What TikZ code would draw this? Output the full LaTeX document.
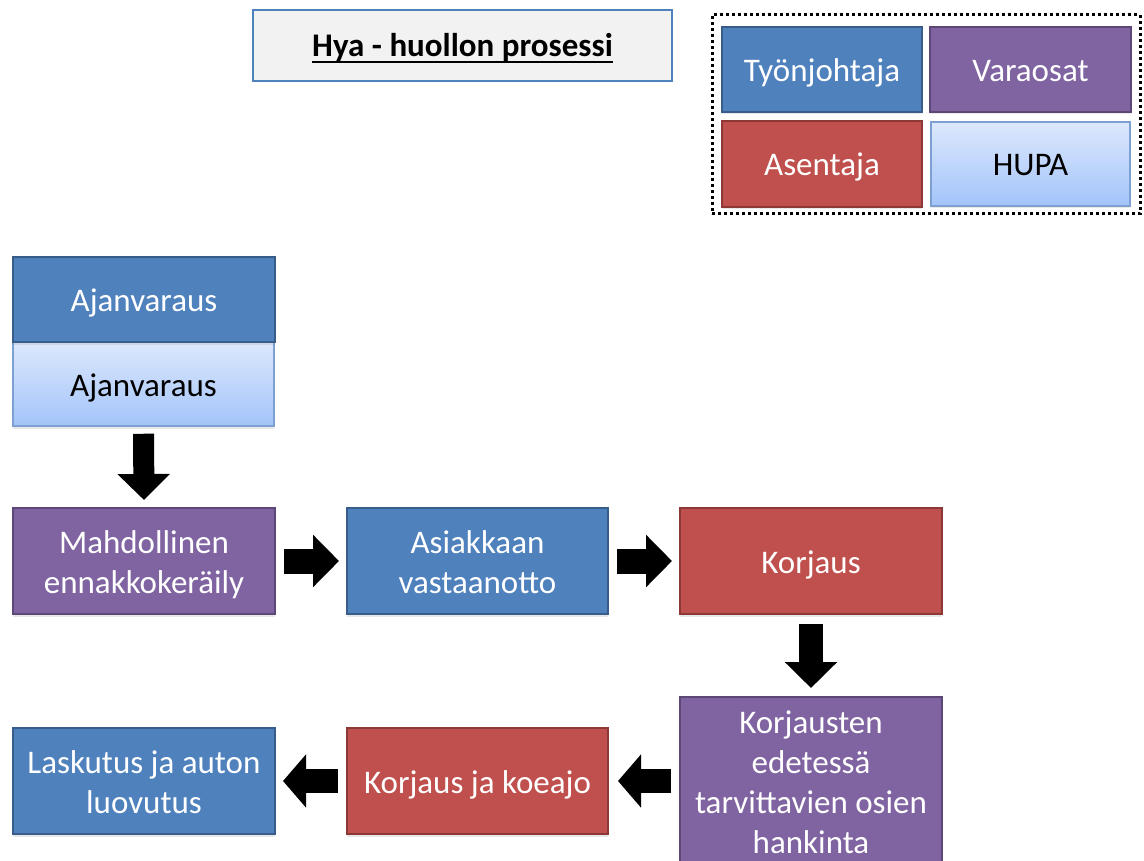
\documentclass[tikz,border=0pt]{standalone}
\usepackage{fontspec}
\setmainfont{Carlito}
\usetikzlibrary{arrows.meta,shadows}
\definecolor{blueF}{RGB}{79,129,189}
\definecolor{blueD}{RGB}{56,93,138}
\definecolor{purpF}{RGB}{128,100,162}
\definecolor{purpD}{RGB}{92,71,118}
\definecolor{redF}{RGB}{192,80,77}
\definecolor{redD}{RGB}{140,56,54}
\definecolor{hupaT}{RGB}{220,232,252}
\definecolor{hupaB}{RGB}{163,196,250}
\definecolor{hupaD}{RGB}{125,160,210}
\definecolor{titleF}{RGB}{242,242,242}
\newcommand{\topstrut}[1]{\rule{0pt}{#1}}
\tikzset{
  box/.style={rectangle, inner sep=0pt, line width=2pt, align=center,
    font=\fontsize{33}{40}\selectfont,
    execute at begin node={\rule{0pt}{33pt}},
    execute at end node={\rule[-9pt]{0pt}{9pt}},
    drop shadow={opacity=0.18, shadow xshift=0pt, shadow yshift=-2.5pt}},
  tyo/.style={box, fill=blueF, draw=blueD, text=white},
  vara/.style={box, fill=purpF, draw=purpD, text=white},
  ase/.style={box, fill=redF, draw=redD, text=white},
  hupa/.style={box, top color=hupaT, bottom color=hupaB, draw=hupaD, line width=1.5pt, text=black},
  blk/.style={line width=24pt, -{Triangle[length=26pt,width=51pt]}, black},
}
\begin{document}
\begin{tikzpicture}[x=1pt,y=-1pt]
\useasboundingbox (0,0) rectangle (1144,861);
% title
\node[draw=blueF, fill=titleF, line width=2.5pt, minimum width=419pt, minimum height=71pt, inner sep=0pt] (title) at (462.5,45.5) {};
\node[inner sep=0pt, font=\fontsize{33}{40}\selectfont\bfseries, anchor=base] (titletext) at (462.5,57) {Hya - huollon prosessi};
\draw[line width=2.8pt] ([yshift=-5pt]titletext.base west) -- ([yshift=-5pt]titletext.base east);
% legend
\node[draw=black, line width=3pt, dash pattern=on 3pt off 3pt, minimum width=428pt, minimum height=199pt, inner sep=0pt] (legend) at (926,114.5) {};
\node[tyo, minimum width=200pt, minimum height=85pt] (leg1) at (822,69.5) {Työnjohtaja};
\node[vara, minimum width=201pt, minimum height=85pt] (leg2) at (1030.5,69.5) {Varaosat};
\node[ase, minimum width=200pt, minimum height=86pt] (leg3) at (822,164) {Asentaja};
\node[hupa, minimum width=199pt, minimum height=84pt] (leg4) at (1030.5,164) {HUPA};
% process
\node[hupa, minimum width=261pt, minimum height=84pt] (aj2) at (143.5,384) {Ajanvaraus};
\node[tyo, minimum width=262pt, minimum height=85pt] (aj1) at (144,299.5) {Ajanvaraus};
\node[vara, minimum width=262pt, minimum height=106pt] (mah) at (144,561) {\topstrut{33pt}Mahdollinen\\ennakkokeräily};
\node[tyo, minimum width=261pt, minimum height=106pt] (asi) at (477.5,561) {\topstrut{33pt}Asiakkaan\\vastaanotto};
\node[ase, minimum width=262pt, minimum height=106pt] (kor) at (811,561) {Korjaus};
\node[vara, minimum width=262pt, minimum height=172pt] (kte) at (811,783) {\topstrut{29pt}Korjausten\\edetessä\\tarvittavien osien\\hankinta};
\node[ase, minimum width=261pt, minimum height=106pt] (kja) at (477.5,781) {Korjaus ja koeajo};
\node[tyo, minimum width=262pt, minimum height=106pt] (las) at (144,781) {\topstrut{33pt}Laskutus ja auton\\luovutus};
% arrows
\draw[blk, line width=21pt] ([yshift=-7pt]aj2.south) -- ([yshift=7pt]mah.north);
\draw[blk, line width=25pt] ([xshift=8pt]mah.east) -- ([xshift=-7pt]asi.west);
\draw[blk, line width=25pt] ([xshift=8pt]asi.east) -- ([xshift=-7pt]kor.west);
\draw[blk] ([yshift=-9pt]kor.south) -- ([yshift=8pt]kte.north);
\draw[blk, -{Triangle[length=23pt,width=52pt]}] ([xshift=-8pt]kte.west |- kja.east) -- ([xshift=9pt]kja.east);
\draw[blk, -{Triangle[length=23pt,width=52pt]}] ([xshift=-8pt]kja.west) -- ([xshift=7pt]las.east);
\end{tikzpicture}
\end{document}
